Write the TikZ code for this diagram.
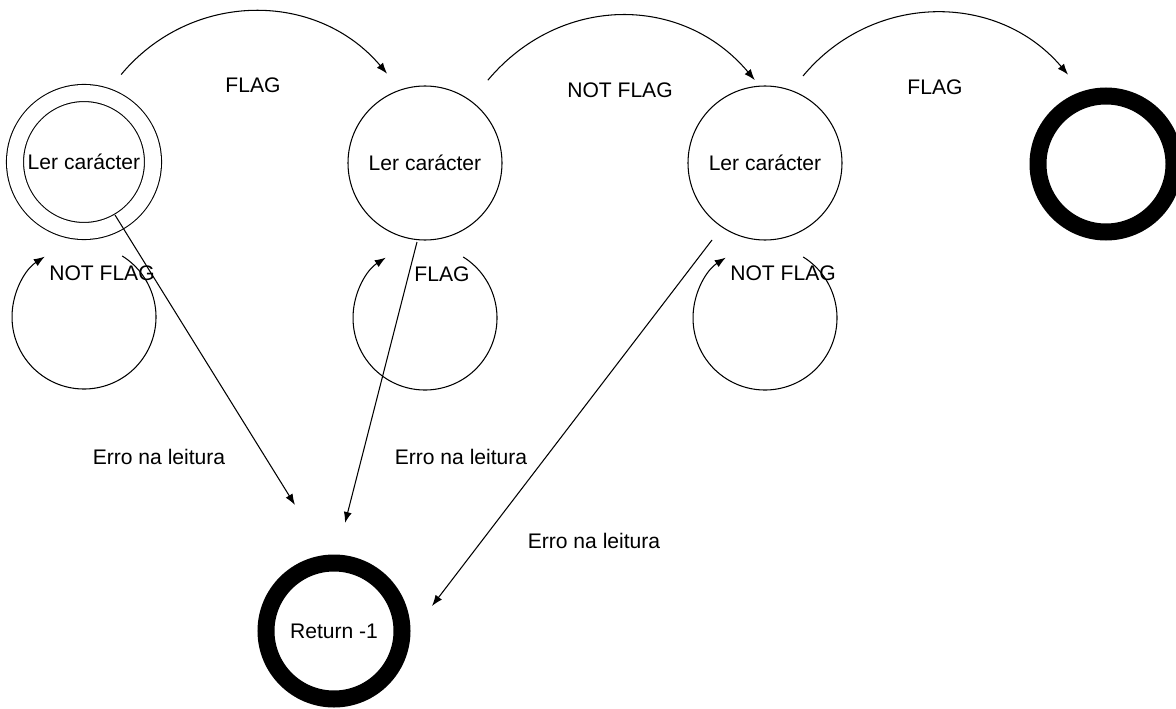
\documentclass[tikz,border=0pt]{standalone}
\usepackage{fontspec}
\setmainfont{Liberation Sans}
\usetikzlibrary{calc,arrows.meta}

\tikzset{
  state/.style={circle, draw, line width=0.6pt, minimum size=3.08cm, inner sep=0pt, font=\fontsize{12}{14}\selectfont},
  accept/.style={state, double, double distance=0.32cm, minimum size=2.76cm},
  halt/.style={state, line width=0.34cm, minimum size=2.72cm},
  lbl/.style={font=\fontsize{12}{14}\selectfont},
  arr/.style={-{Latex[length=2.2mm,width=1.6mm]}, line width=0.6pt}
}

\begin{document}
\begin{tikzpicture}
	\useasboundingbox (0,0) rectangle (23.52,14.16);
	\clip (0,0) rectangle (23.52,14.16);
	% estados
	\node[accept] (s1) at (1.68,10.92) {Ler carácter};
	\node[state] (s2) at (8.50,10.90) {Ler carácter};
	\node[state] (s3) at (15.30,10.90) {Ler carácter};
	\node[halt] (s4) at (22.12,10.88) {};
	\node[halt] (r) at (6.68,1.54) {Return -1};
	% transicoes de cima
	\draw[arr] ($(s1)+(67:1.90)$) to[bend left=50, looseness=1.05] ($(s2)+(113:1.94)$);
	\draw[arr] ($(s2)+(52.8:2.08)$) to[bend left=50, looseness=1.08] ($(s3)+(97:1.67)$);
	\draw[arr] ($(s3)+(66.4:1.90)$) to[bend left=50, looseness=1.05] ($(s4)+(113:1.94)$);
	\node[lbl] (f1) at (5.06,12.46) {FLAG};
	\node[lbl] (f2) at (12.40,12.36) {NOT FLAG};
	\node[lbl] (f3) at (18.70,12.42) {FLAG};
	% lacos
	\coordinate (l1) at ($(s1)+(0,-3.1)$);
	\coordinate (l2) at ($(s2)+(0,-3.1)$);
	\coordinate (l3) at ($(s3)+(0,-3.1)$);
	\draw[arr] ([shift={(58:1.44)}]l1) arc[start angle=58, end angle=-237, radius=1.44];
	\draw[arr] ([shift={(58:1.44)}]l2) arc[start angle=58, end angle=-237, radius=1.44];
	\draw[arr] ([shift={(58:1.44)}]l3) arc[start angle=58, end angle=-237, radius=1.44];
	\node[lbl] (n1) at (2.04,8.70) {NOT FLAG};
	\node[lbl] (n2) at (8.84,8.68) {FLAG};
	\node[lbl] (n3) at (15.66,8.70) {NOT FLAG};
	% erros
	\draw[arr] ($(s1)+(0.62,-1.06)$) -- ($(r)+(-0.78,2.52)$);
	\draw[arr] ($(s2)+(-0.16,-1.58)$) -- ($(r)+(0.22,2.16)$);
	\draw[arr] ($(s3)+(-1.06,-1.54)$) -- ($(r)+(1.96,0.50)$);
	\node[lbl] (e1) at (3.18,5.02) {Erro na leitura};
	\node[lbl] (e2) at (9.22,5.02) {Erro na leitura};
	\node[lbl] (e3) at (11.88,3.34) {Erro na leitura};
\end{tikzpicture}
\end{document}
